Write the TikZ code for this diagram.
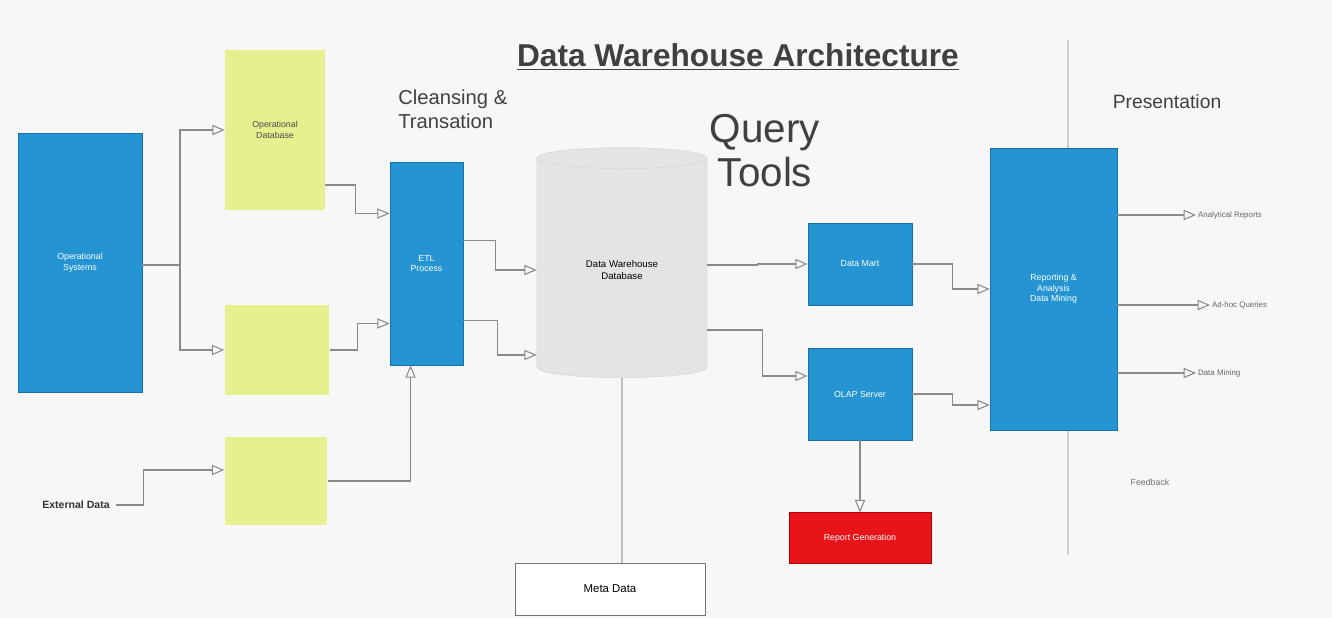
\documentclass[tikz,border=0pt]{standalone}
\usepackage{fontspec}
\setmainfont{Liberation Sans}
\usetikzlibrary{arrows,positioning,calc,shapes.geometric}

\definecolor{dwblue}{HTML}{2494D2}
\definecolor{dwblueline}{HTML}{1B6FA8}
\definecolor{dwyellow}{HTML}{E6F08F}
\definecolor{dwred}{HTML}{E8141A}
\definecolor{dwgray}{HTML}{E4E4E4}
\definecolor{dwline}{HTML}{8A8A8A}
\definecolor{dwback}{HTML}{F7F7F7}

\tikzset{
  bluebox/.style={draw=dwblueline,fill=dwblue,text=white,align=center,
    font=\fontsize{5}{6}\selectfont,inner sep=1pt},
  yellowbox/.style={draw=none,fill=dwyellow,text=black!70,align=center,
    font=\fontsize{5}{6}\selectfont,inner sep=1pt},
  headline/.style={text=black!75,inner sep=0pt},
  outlabel/.style={text=black!60,font=\fontsize{4.5}{5}\selectfont,anchor=west,inner sep=1pt},
  wire/.style={draw=dwline,line width=0.6pt}
}

\begin{document}
\begin{tikzpicture}[x=0.02cm,y=-0.02cm,>=open triangle 45]

  \fill[dwback] (0,0) rectangle (1332,618);
  \useasboundingbox (0,0) rectangle (1332,618);

  % divider behind the presentation box
  \draw[black!20,line width=0.6pt] (1068,40) -- (1068,555);

  % headings
  \node[headline,font=\fontsize{18}{20}\selectfont\bfseries] (title) at (738,57)
    {\underline{Data Warehouse Architecture}};
  \node[headline,align=left,anchor=north west,font=\fontsize{11.5}{13.5}\selectfont] (cleanhead) at (398,90)
    {Cleansing \&\\Transation};
  \node[headline,align=center,font=\fontsize{23}{25}\selectfont] (queryhead) at (765,151)
    {Query\\Tools};
  \node[headline,font=\fontsize{11}{12}\selectfont] (presenthead) at (1167,102) {Presentation};

  % sources
  \node[bluebox,minimum width=2.48cm,minimum height=5.18cm] (ops) at (80,262.5) {Operational\\Systems};
  \node[yellowbox,minimum width=2cm,minimum height=3.2cm] (yel1) at (275,130) {Operational\\Database};
  \node[yellowbox,minimum width=2.1cm,minimum height=1.8cm] (yel2) at (277,350) {};
  \node[yellowbox,minimum width=2.06cm,minimum height=1.76cm] (yel3) at (276,481) {};
  \node[text=black!80,font=\fontsize{6}{7}\selectfont\bfseries] (ext) at (76,505) {External Data};

  % staging and warehouse
  \node[bluebox,minimum width=1.46cm,minimum height=4.06cm] (clean) at (426.5,263.5) {ETL\\Process};
  \node[cylinder,shape border rotate=90,aspect=0.25,draw=black!15,fill=dwgray,
    minimum width=3.4cm,minimum height=4.6cm,align=center,
    font=\fontsize{5.5}{6.5}\selectfont] (db) at (622,270) {Data Warehouse\\Database};
  \node[draw=black!55,fill=white,minimum width=3.8cm,minimum height=1.04cm,
    font=\fontsize{6.5}{7.5}\selectfont] (meta) at (610,589) {Meta Data};

  % query tools
  \node[bluebox,minimum width=2.08cm,minimum height=1.64cm] (mart) at (860,264) {Data Mart};
  \node[bluebox,minimum width=2.08cm,minimum height=1.84cm] (olap) at (860,394) {OLAP Server};
  \node[draw=red!70!black,fill=dwred,text=white,minimum width=2.84cm,minimum height=1.02cm,
    font=\fontsize{5}{6}\selectfont,below=1.44cm of olap] (report) {Report Generation};

  % presentation
  \node[bluebox,minimum width=2.54cm,minimum height=5.64cm] (pres) at (1053.5,289) {Reporting \&\\Analysis\\Data Mining};
  \node[outlabel] (lab1) at (1196,215) {Analytical Reports};
  \node[outlabel] (lab2) at (1210,305) {Ad-hoc Queries};
  \node[outlabel] (lab3) at (1196,373) {Data Mining};
  \node[text=black!55,font=\fontsize{5}{6}\selectfont] (feed) at (1150,482) {Feedback};

  % connectors
  \coordinate (split) at (180,265);
  \path[wire] (ops.east |- split) -- (split);
  \path[wire,->] (split) |- (yel1.west);
  \path[wire,->] (split) |- (yel2.west);
  \path[wire,->] (ext.east) -- ++(28,0) |- ($(yel3.west)+(0,-11)$);

  \path[wire,->] ($(yel1.east)+(0,55)$) -- ++(30,0) |- ($(clean.west)+(0,-50)$);
  \path[wire,->] (yel2.east) -- ++(28,0) |- ($(clean.west)+(0,60)$);
  \path[wire,->] (yel3.east) -| ($(clean.south)+(-16,0)$);

  \path[wire,->] ($(clean.east)+(0,-23)$) -- ++(32,0) |- (db.west);
  \path[wire,->] ($(clean.east)+(0,57)$) -- ++(34,0) |- ($(db.west)+(0,85)$);
  \path[wire,draw=black!25] (db.south) -- (db.south |- meta.north);

  \path[wire,->] ($(db.east)+(0,-5)$) -- ++(50,0) |- (mart.west);
  \path[wire,->] ($(db.east)+(0,60)$) -- ++(55,0) |- ($(olap.west)+(0,-18)$);
  \path[wire,->] (olap.south) -- (report.north);

  \path[wire,->] (mart.east) -- ++(40,0) |- (pres.west);
  \path[wire,->] (olap.east) -- ++(40,0) |- ($(pres.west)+(0,116)$);

  \path[wire,->] (pres.east |- lab1) -- (lab1.west);
  \path[wire,->] (pres.east |- lab2) -- (lab2.west);
  \path[wire,->] (pres.east |- lab3) -- (lab3.west);

\end{tikzpicture}
\end{document}
